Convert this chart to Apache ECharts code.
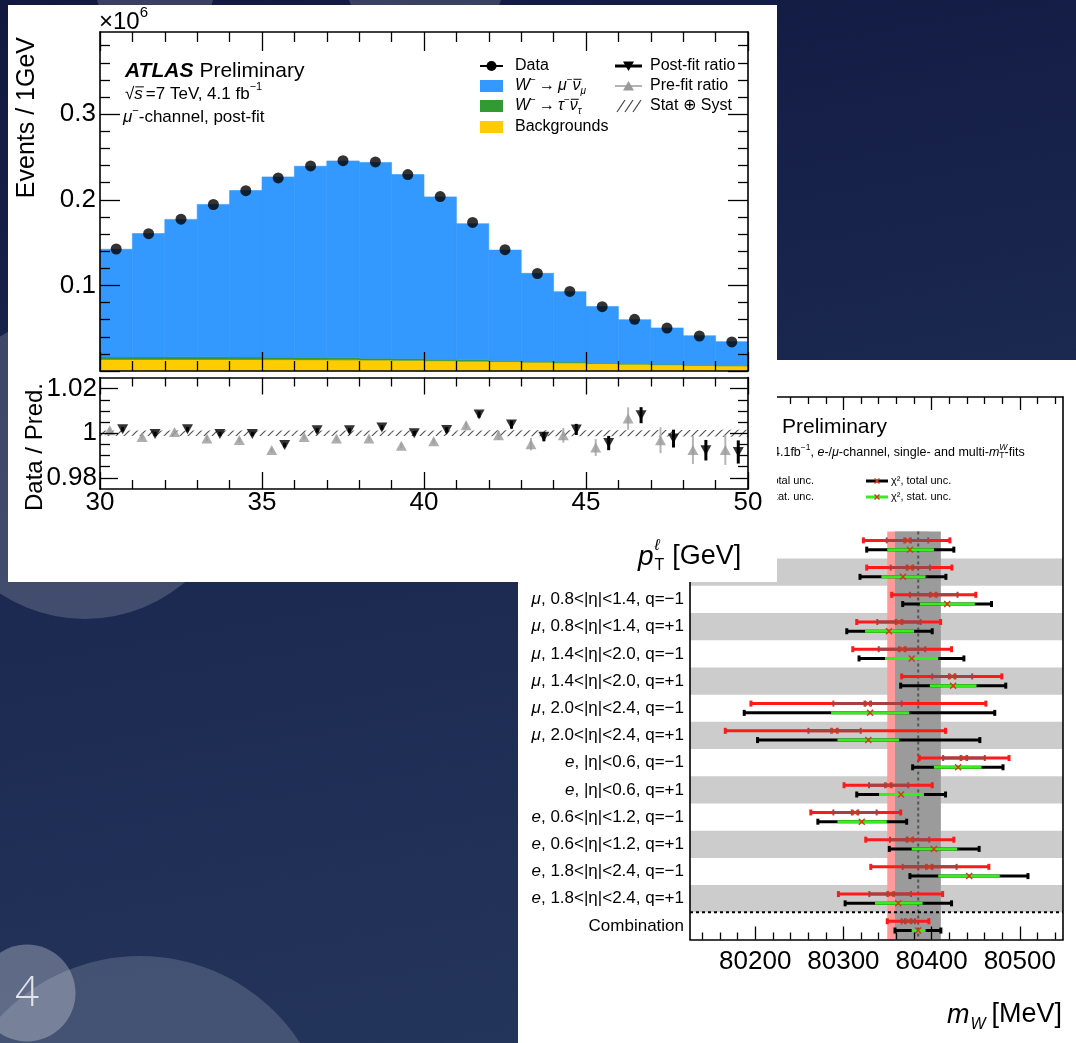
<!DOCTYPE html>
<html>
<head>
<meta charset="utf-8">
<title>W mass: lepton pT fit and per-category results</title>
<script src="https://cdn.jsdelivr.net/npm/echarts@6.0.0/dist/echarts.min.js"></script>
<style>
  html, body { margin: 0; padding: 0; }
  body { width: 1076px; height: 1043px; overflow: hidden;
         background: linear-gradient(170deg, #111940 0%, #1b2850 45%, #25375d 100%); }
  #chart { width: 1076px; height: 1043px; }
</style>
</head>
<body>
<div id="chart"></div>
<script>
// ---------- lepton pT distribution, mu- channel (events per GeV, in units of 1e6) ----------
const ptBinLow = [30, 31, 32, 33, 34, 35, 36, 37, 38, 39, 40, 41, 42, 43, 44, 45, 46, 47, 48, 49];
const dataEvents   = [0.1425, 0.1604, 0.1774, 0.1945, 0.2107, 0.2255, 0.2395, 0.2457, 0.2442, 0.2294,
                      0.2037, 0.1735, 0.1417, 0.1139, 0.0929, 0.0751, 0.0604, 0.0502, 0.0409, 0.0340];
const wmunuEvents  = [0.1259, 0.1440, 0.1605, 0.1780, 0.1944, 0.2105, 0.2233, 0.2299, 0.2286, 0.2149,
                      0.1897, 0.1591, 0.1289, 0.1027, 0.0821, 0.0657, 0.0511, 0.0423, 0.0340, 0.0278];
const wtaunuEvents = [0.0028, 0.0030, 0.0031, 0.0031, 0.0030, 0.0029, 0.0027, 0.0025, 0.0022, 0.0020,
                      0.0017, 0.0015, 0.0013, 0.0011, 0.0010, 0.0009, 0.0008, 0.0007, 0.0006, 0.0005];
const bkgEvents    = [0.0135, 0.0135, 0.0135, 0.0135, 0.0134, 0.0133, 0.0132, 0.0130, 0.0128, 0.0125,
                      0.0120, 0.0115, 0.0110, 0.0103, 0.0096, 0.0088, 0.0080, 0.0073, 0.0066, 0.0060];

// ratio panel: data / prediction
const postFitRatio = [1.0018, 0.9997, 1.0018, 0.9997, 0.9997, 0.9947, 1.0013, 1.0013, 1.0026, 1.0000,
                      1.0015, 1.0084, 1.0039, 0.9984, 1.0017, 0.9956, 1.0081, 0.9976, 0.9924, 0.9916];
const postFitErr   = [0.0010, 0.0010, 0.0010, 0.0010, 0.0010, 0.0010, 0.0010, 0.0010, 0.0010, 0.0010,
                      0.0012, 0.0014, 0.0018, 0.0020, 0.0025, 0.0032, 0.0036, 0.0040, 0.0046, 0.0052];
const preFitRatio  = [1.0013, 0.9983, 1.0006, 0.9976, 0.9970, 0.9925, 0.9983, 0.9976, 0.9976, 0.9944,
                      0.9964, 1.0036, 0.9991, 0.9951, 0.9991, 0.9936, 1.0066, 0.9969, 0.9925, 0.9925];
const preFitErr    = [0.0010, 0.0010, 0.0010, 0.0010, 0.0010, 0.0010, 0.0010, 0.0010, 0.0010, 0.0010,
                      0.0012, 0.0015, 0.0020, 0.0028, 0.0033, 0.0038, 0.0050, 0.0058, 0.0063, 0.0067];
const statSystBand = [0.0012, 0.0012, 0.0012, 0.0012, 0.0012, 0.0012, 0.0012, 0.0012, 0.0012, 0.0012,
                      0.0012, 0.0012, 0.0013, 0.0013, 0.0013, 0.0014, 0.0014, 0.0015, 0.0015, 0.0016];

const ptTickValues = [30, 35, 40, 45, 50];
const ptTickLabels = ['30', '35', '40', '45', '50'];
const eventsTickValues = [0.1, 0.2, 0.3];
const eventsTickLabels = ['0.1', '0.2', '0.3'];
const ratioTickValues = [0.98, 1, 1.02];
const ratioTickLabels = ['0.98', '1', '1.02'];

// ---------- m_W per measurement category (MeV) ----------
const categories = [
  'μ, |η|<0.8, q=−1', 'μ, |η|<0.8, q=+1',
  'μ, 0.8<|η|<1.4, q=−1', 'μ, 0.8<|η|<1.4, q=+1',
  'μ, 1.4<|η|<2.0, q=−1', 'μ, 1.4<|η|<2.0, q=+1',
  'μ, 2.0<|η|<2.4, q=−1', 'μ, 2.0<|η|<2.4, q=+1',
  'e, |η|<0.6, q=−1', 'e, |η|<0.6, q=+1',
  'e, 0.6<|η|<1.2, q=−1', 'e, 0.6<|η|<1.2, q=+1',
  'e, 1.8<|η|<2.4, q=−1', 'e, 1.8<|η|<2.4, q=+1',
  'Combination'
];
// likelihood fit (upper bar)
const lhCentral = [80372.8, 80375.4, 80401.8, 80363.0, 80366.7, 80423.3, 80327.6, 80289.8, 80436.6, 80350.9, 80313.2, 80375.4, 80397.3, 80353.6, 80373.5];
const lhTotLo   = [80322.6, 80326.4, 80354.7, 80315.1, 80310.6, 80366.0, 80195.1, 80166.0, 80386.0, 80300.7, 80263.0, 80325.3, 80331.0, 80294.3, 80349.7];
const lhTotHi   = [80420.7, 80423.0, 80450.1, 80410.2, 80422.6, 80479.6, 80461.5, 80415.8, 80487.8, 80400.7, 80364.9, 80425.2, 80464.9, 80412.5, 80396.9];
const lhStatLo  = [80349.1, 80353.6, 80375.4, 80338.4, 80340.0, 80400.7, 80288.6, 80260.3, 80413.1, 80329.0, 80288.6, 80352.8, 80367.2, 80329.4, 80366.0];
const lhStatHi  = [80396.2, 80398.1, 80429.4, 80387.5, 80392.8, 80446.0, 80366.0, 80319.6, 80460.3, 80373.5, 80337.7, 80397.3, 80428.3, 80376.6, 80381.1];
// chi2 fit (lower bar)
const chiCentral = [80375.4, 80367.5, 80417.7, 80351.7, 80377.4, 80424.4, 80330.2, 80328.2, 80430.1, 80365.3, 80320.8, 80402.6, 80442.6, 80362.2, 80384.8];
const chiTotLo   = [80326.4, 80318.8, 80367.2, 80303.8, 80317.7, 80364.9, 80187.5, 80202.6, 80378.5, 80315.1, 80271.0, 80352.0, 80375.4, 80301.9, 80358.5];
const chiTotHi   = [80425.2, 80416.2, 80467.9, 80400.7, 80436.6, 80484.1, 80471.6, 80454.7, 80481.0, 80415.8, 80371.7, 80453.9, 80509.3, 80422.6, 80410.5];
const chiStatLo  = [80349.7, 80343.0, 80386.8, 80324.5, 80347.1, 80398.1, 80286.0, 80293.2, 80402.6, 80340.4, 80293.2, 80377.4, 80407.5, 80335.8, 80377.4];
const chiStatHi  = [80402.6, 80393.2, 80449.0, 80380.0, 80407.5, 80450.9, 80374.6, 80363.0, 80456.6, 80391.3, 80349.1, 80429.0, 80477.3, 80389.8, 80393.2];

const mwTickValues = [80200, 80300, 80400, 80500];
const mwTickLabels = ['80200', '80300', '80400', '80500'];
const mwMin = 80126, mwMax = 80549;

// ---------- styling ----------
const FONT = '"Liberation Sans", "DejaVu Sans", Arial, sans-serif';
const COL = {
  mu: '#3399ff', tau: '#339933', bkg: '#ffcc00',
  pre: '#9a9a9a', red: '#ff1a1a', darkRed: '#a8403f', green: '#35ee1a', cross: '#d8361a',
  rowBand: '#cccccc', pinkBand: '#ff9a9a', greyBand: '#9b9b9b'
};

// ---------- helpers ----------
function nearestIdx(arr, v) {
  let b = 0;
  for (let i = 1; i < arr.length; i++) if (Math.abs(arr[i] - v) < Math.abs(arr[b] - v)) b = i;
  return b;
}
function stepTicks(lo, hi, step, majors) {
  const out = [];
  for (let n = Math.round(lo / step); n <= Math.round(hi / step); n++) {
    const v = +(n * step).toFixed(6);
    if (!majors.some(m => Math.abs(m - v) < step * 0.01)) out.push(v);
  }
  return out;
}
function mkAxis(o) {
  return {
    type: 'value', gridIndex: o.grid, position: o.pos, min: o.min, max: o.max,
    inverse: !!o.inverse, z: o.z, silent: true,
    axisLine: { show: !!o.line, onZero: false, lineStyle: { color: '#000', width: 1.6 } },
    axisTick: o.ticks ? { show: true, inside: true, length: o.len, customValues: o.ticks,
                          lineStyle: { color: '#000', width: 1.3 } } : { show: false },
    axisLabel: o.labels ? Object.assign({
      show: true, customValues: o.labels.values, color: '#000', fontFamily: FONT,
      formatter: v => o.labels.text[nearestIdx(o.labels.values, v)]
    }, o.labelStyle) : { show: false },
    splitLine: { show: false }, splitArea: { show: false }
  };
}

const measureCtx = document.createElement('canvas').getContext('2d');
function fontOf(p) { return `${p.style || 'normal'} ${p.weight || 'normal'} ${p.size}px ${FONT}`; }
function runsWidth(parts) {
  let w = 0;
  parts.forEach(p => { measureCtx.font = fontOf(p); if (!p.stay) w += measureCtx.measureText(p.t).width + (p.gap || 0); });
  return w;
}
// lays out a line of text pieces (for italics, sub- and superscripts)
function textRuns(x, y, parts, z, align) {
  let cx = align === 'right' ? x - runsWidth(parts) : x;
  const els = [];
  parts.forEach(p => {
    const f = fontOf(p);
    measureCtx.font = f;
    const w = measureCtx.measureText(p.t).width;
    const fill = p.fill || '#000';
    els.push({ type: 'text', z, silent: true, x: cx + (p.dx || 0), y: y + (p.dy || 0),
      style: { text: p.t, font: f, fill, align: 'left', verticalAlign: 'middle',
               textAlign: 'left', textVerticalAlign: 'middle' } });
    if (p.over) {
      const oy = y + (p.dy || 0) - p.size * 0.42;
      els.push({ type: 'line', z, silent: true, shape: { x1: cx + 1, y1: oy, x2: cx + w + 1, y2: oy },
                 style: { stroke: fill, lineWidth: 1 } });
    }
    if (!p.stay) cx += w + (p.gap || 0);
  });
  return els;
}
function line(x1, y1, x2, y2, stroke, lw, z, dash) {
  return { type: 'line', z, silent: true, shape: { x1, y1, x2, y2 },
           style: { stroke, lineWidth: lw, lineDash: dash || null } };
}

// hatch pattern for the stat+syst band
const hatch = (() => {
  const c = document.createElement('canvas'); c.width = 8; c.height = 8;
  const g = c.getContext('2d'); g.strokeStyle = '#555'; g.lineWidth = 1.2;
  g.beginPath(); g.moveTo(0, 8); g.lineTo(8, 0); g.moveTo(-2, 2); g.lineTo(2, -2); g.moveTo(6, 10); g.lineTo(10, 6);
  g.stroke();
  return c;
})();

// ---------- tick sets ----------
const ptMinor = stepTicks(30, 50, 1, ptTickValues);
const eventsMajor = [0].concat(eventsTickValues);
const eventsMinor = stepTicks(0.02, 0.38, 0.02, eventsMajor);
const ratioMinor = stepTicks(0.985, 1.015, 0.005, ratioTickValues);
const mwMinor = stepTicks(80140, 80540, 20, mwTickValues);
const rowCenters = categories.map((_, k) => k + 0.5);
const rowLabels = categories.map(s => s.replace(/^(μ|e),/, '{i|$1},'));

// ---------- series data ----------
const histData = ptBinLow.map((x, i) => [x, x + 1, bkgEvents[i], wtaunuEvents[i], wmunuEvents[i]]);
const dataPoints = ptBinLow.map((x, i) => [x + 0.5, dataEvents[i]]);
const preFitPoints = ptBinLow.map((x, i) => [x + 0.3, preFitRatio[i], preFitErr[i]]);
const postFitPoints = ptBinLow.map((x, i) => [x + 0.7, postFitRatio[i], postFitErr[i]]);
const bandData = ptBinLow.map((x, i) => [x, x + 1, statSystBand[i]]);
const measData = categories.map((_, k) => [k, lhCentral[k], lhTotLo[k], lhTotHi[k], lhStatLo[k], lhStatHi[k],
                                              chiCentral[k], chiTotLo[k], chiTotHi[k], chiStatLo[k], chiStatHi[k]]);
const combIdx = categories.length - 1;
const shadedRows = rowCenters.map((_, k) => k).filter(k => k % 2 === 1);

// ---------- render functions ----------
function renderHist(params, api) {
  const x0 = api.value(0), x1 = api.value(1);
  const layers = [[api.value(2), COL.bkg], [api.value(3), COL.tau], [api.value(4), COL.mu]];
  let base = 0; const children = [];
  layers.forEach(([h, c]) => {
    const a = api.coord([x0, base + h]), b = api.coord([x1, base]);
    children.push({ type: 'rect', shape: { x: a[0], y: a[1], width: b[0] - a[0], height: b[1] - a[1] },
                    style: { fill: c, stroke: c, lineWidth: 0.6 } });
    base += h;
  });
  return { type: 'group', children };
}
function renderBand(params, api) {
  const u = api.value(2);
  const a = api.coord([api.value(0), 1 + u]), b = api.coord([api.value(1), 1 - u]);
  return { type: 'rect', shape: { x: a[0], y: a[1], width: b[0] - a[0], height: b[1] - a[1] },
           style: { fill: { image: hatch, repeat: 'repeat' } } };
}
function errRenderer(color, lw) {
  return (params, api) => {
    const x = api.value(0), y = api.value(1), e = api.value(2);
    const a = api.coord([x, y - e]), b = api.coord([x, y + e]);
    return { type: 'line', shape: { x1: a[0], y1: a[1], x2: b[0], y2: b[1] }, style: { stroke: color, lineWidth: lw } };
  };
}
function renderRowBand(params, api) {
  const k = api.value(0);
  const a = api.coord([mwMin, k]), b = api.coord([mwMax, k + 1]);
  return { type: 'rect', shape: { x: a[0], y: a[1], width: b[0] - a[0], height: b[1] - a[1] },
           style: { fill: COL.rowBand } };
}
function renderCombBand(params, api) {
  const a = api.coord([api.value(0), 0]), b = api.coord([api.value(1), categories.length]);
  return { type: 'rect', shape: { x: a[0], y: a[1], width: b[0] - a[0], height: b[1] - a[1] },
           style: { fill: api.value(2) === 0 ? COL.pinkBand : COL.greyBand } };
}
function renderRefLines(params, api) {
  const c = chiCentral[combIdx];
  const a = api.coord([c, 0]), b = api.coord([c, categories.length]);
  const s0 = api.coord([mwMin, combIdx]), s1 = api.coord([mwMax, combIdx]);
  return { type: 'group', children: [
    { type: 'line', shape: { x1: a[0], y1: a[1], x2: b[0], y2: b[1] }, style: { stroke: '#555', lineWidth: 2, lineDash: [3, 3] } },
    { type: 'line', shape: { x1: s0[0], y1: s0[1], x2: s1[0], y2: s1[1] }, style: { stroke: '#000', lineWidth: 2, lineDash: [3, 3] } }
  ] };
}
function renderMeasurement(params, api) {
  const k = api.value(0);
  const els = [];
  const P = (x, y) => api.coord([x, y]);
  const seg = (a, b, y, color, w) => { const p = P(a, y), q = P(b, y);
    els.push({ type: 'line', shape: { x1: p[0], y1: p[1], x2: q[0], y2: q[1] }, style: { stroke: color, lineWidth: w } }); };
  const cap = (x, y, color, h, w, dx) => { const p = P(x, y); const px = p[0] + (dx || 0);
    els.push({ type: 'line', shape: { x1: px, y1: p[1] - h, x2: px, y2: p[1] + h }, style: { stroke: color, lineWidth: w } }); };
  const cross = (x, y, color, s) => { const p = P(x, y);
    els.push({ type: 'line', shape: { x1: p[0] - s, y1: p[1] - s, x2: p[0] + s, y2: p[1] + s }, style: { stroke: color, lineWidth: 1.4 } });
    els.push({ type: 'line', shape: { x1: p[0] - s, y1: p[1] + s, x2: p[0] + s, y2: p[1] - s }, style: { stroke: color, lineWidth: 1.4 } }); };
  // likelihood fit: total (red) with stat (dark red) inside
  const yU = k + 0.33;
  seg(api.value(2), api.value(3), yU, COL.red, 3);
  cap(api.value(2), yU, COL.red, 3, 3); cap(api.value(3), yU, COL.red, 3, 3);
  seg(api.value(4), api.value(5), yU, COL.darkRed, 3);
  cap(api.value(4), yU, COL.darkRed, 3, 2); cap(api.value(5), yU, COL.darkRed, 3, 2);
  cap(api.value(1), yU, COL.darkRed, 3, 1.5, -3.5); cap(api.value(1), yU, COL.darkRed, 3, 1.5, 3.5);
  cross(api.value(1), yU, COL.cross, 2.8);
  // chi2 fit: total (black) with stat (green) inside
  const yL = k + 0.67;
  seg(api.value(7), api.value(8), yL, '#000', 3);
  cap(api.value(7), yL, '#000', 3, 3); cap(api.value(8), yL, '#000', 3, 3);
  seg(api.value(9), api.value(10), yL, COL.green, 3);
  cross(api.value(6), yL, COL.cross, 3);
  return { type: 'group', children: els };
}

// ---------- decorations, panels and text ----------
const Z_BG = 0, Z_RPANEL = 1, Z_RTEXT = 8, Z_LPANEL = 20, Z_LTEXT = 32;
const g = [];
// slide background circles
[[85, 465, 154, 0.17], [140, 1147, 191, 0.155], [27, 993, 48.5, 0.28], [155, -15, 60, 0.17], [425, -25, 80, 0.17]]
  .forEach(([cx, cy, r, a]) => g.push({ type: 'circle', z: Z_BG, silent: true, shape: { cx, cy, r },
    style: { fill: `rgba(255,255,255,${a})` } }));
g.push({ type: 'text', z: Z_BG, silent: true, x: 27, y: 994,
  style: { text: '4', font: `300 42px "Open Sans", ${FONT}`, fill: 'rgba(232,234,240,0.95)',
           align: 'center', verticalAlign: 'middle', textAlign: 'center', textVerticalAlign: 'middle' } });
// white panels
g.push({ type: 'rect', z: Z_RPANEL, silent: true, shape: { x: 518, y: 360, width: 558, height: 683 }, style: { fill: '#fff' } });
g.push({ type: 'rect', z: Z_LPANEL, silent: true, shape: { x: 8, y: 5, width: 769, height: 577 }, style: { fill: '#fff' } });

// --- right plot header and legend ---
g.push(...textRuns(777, 427, [{ t: 'ATLAS', size: 21, weight: 'bold', style: 'italic' }], Z_RTEXT, 'right'));
g.push(...textRuns(782, 427, [{ t: 'Preliminary', size: 21 }], Z_RTEXT));
g.push(...textRuns(772, 453, [{ t: '√s = 7 TeV,', size: 12.5 }], Z_RTEXT, 'right'));
g.push(...textRuns(773, 453, [
  { t: '4.1fb', size: 12.5 }, { t: '−1', size: 8.5, dy: -5 }, { t: ', ', size: 12.5 },
  { t: 'e', size: 12.5, style: 'italic' }, { t: '-/', size: 12.5 }, { t: 'μ', size: 12.5, style: 'italic' },
  { t: '-channel, single- and multi-', size: 12.5 }, { t: 'm', size: 12.5, style: 'italic' },
  { t: 'W', size: 8.5, style: 'italic', dy: -5, stay: true }, { t: 'T', size: 8.5, dy: 3 }, { t: '-fits', size: 12.5, gap: 0 }
], Z_RTEXT));
g.push(...textRuns(814, 481, [{ t: 'total unc.', size: 11 }], Z_RTEXT, 'right'));
g.push(...textRuns(814, 497, [{ t: 'stat. unc.', size: 11 }], Z_RTEXT, 'right'));
g.push(line(866, 481, 888, 481, '#000', 3, Z_RTEXT));
g.push(line(874.5, 478.5, 879.5, 483.5, COL.cross, 1.4, Z_RTEXT), line(874.5, 483.5, 879.5, 478.5, COL.cross, 1.4, Z_RTEXT));
g.push(line(866, 497, 888, 497, COL.green, 3, Z_RTEXT));
g.push(line(874.5, 494.5, 879.5, 499.5, COL.cross, 1.4, Z_RTEXT), line(874.5, 499.5, 879.5, 494.5, COL.cross, 1.4, Z_RTEXT));
g.push(...textRuns(891, 481, [{ t: 'χ², total unc.', size: 11 }], Z_RTEXT));
g.push(...textRuns(891, 497, [{ t: 'χ², stat. unc.', size: 11 }], Z_RTEXT));
// right plot x title
g.push(...textRuns(947, 1015, [{ t: 'm', size: 27, style: 'italic', gap: 1 }, { t: 'W', size: 16, style: 'italic', dy: 10, gap: 6 },
  { t: '[MeV]', size: 27 }], Z_RTEXT));

// --- left plot texts ---
g.push(...textRuns(99, 22, [{ t: '×10', size: 24 }, { t: '6', size: 15, dy: -9 }], Z_LTEXT));
g.push(...textRuns(125, 71, [{ t: 'ATLAS', size: 21, weight: 'bold', style: 'italic', gap: 6 }, { t: 'Preliminary', size: 21 }], Z_LTEXT));
g.push(...textRuns(125, 94, [{ t: '√', size: 17 }, { t: 's', size: 17, style: 'italic', over: true, gap: 3 },
  { t: '=7 TeV, 4.1 fb', size: 17 }, { t: '−1', size: 11, dy: -7 }], Z_LTEXT));
g.push(...textRuns(123, 117, [{ t: 'μ', size: 17, style: 'italic' }, { t: '−', size: 11, dy: -6 },
  { t: '-channel, post-fit', size: 17 }], Z_LTEXT));
// legend, first column
g.push(line(480, 66, 503, 66, '#000', 2, Z_LTEXT));
g.push({ type: 'circle', z: Z_LTEXT, silent: true, shape: { cx: 491.5, cy: 66, r: 5 }, style: { fill: '#000' } });
[[80, COL.mu], [100, COL.tau], [121, COL.bkg]].forEach(([y, c]) =>
  g.push({ type: 'rect', z: Z_LTEXT, silent: true, shape: { x: 480, y, width: 23, height: 12 }, style: { fill: c } }));
g.push(...textRuns(515, 66, [{ t: 'Data', size: 16 }], Z_LTEXT));
function decayLabel(lep) {
  return [{ t: 'W', size: 16, style: 'italic' }, { t: '−', size: 10, dy: -6, gap: 3 }, { t: '→', size: 16, gap: 3 },
          { t: lep, size: 16, style: 'italic' }, { t: '−', size: 10, dy: -6 },
          { t: 'ν', size: 16, style: 'italic', over: true }, { t: lep, size: 10, style: 'italic', dy: 5 }];
}
g.push(...textRuns(515, 86, decayLabel('μ'), Z_LTEXT));
g.push(...textRuns(515, 106, decayLabel('τ'), Z_LTEXT));
g.push(...textRuns(515, 127, [{ t: 'Backgrounds', size: 16 }], Z_LTEXT));
// legend, second column
g.push(line(615, 66, 642, 66, '#000', 3, Z_LTEXT));
g.push({ type: 'polygon', z: Z_LTEXT, silent: true, shape: { points: [[623, 61.5], [634, 61.5], [628.5, 71]] }, style: { fill: '#000' } });
g.push(line(615, 86, 642, 86, COL.pre, 1.5, Z_LTEXT));
g.push({ type: 'polygon', z: Z_LTEXT, silent: true, shape: { points: [[623, 90.5], [634, 90.5], [628.5, 81]] }, style: { fill: COL.pre } });
[617, 625, 633].forEach(x => g.push(line(x, 112, x + 8, 100, '#444', 1.2, Z_LTEXT)));
g.push(...textRuns(650, 66, [{ t: 'Post-fit ratio', size: 16 }], Z_LTEXT));
g.push(...textRuns(650, 86, [{ t: 'Pre-fit ratio', size: 16 }], Z_LTEXT));
g.push(...textRuns(650, 106, [{ t: 'Stat ⊕ Syst', size: 16 }], Z_LTEXT));
// axis titles
g.push({ type: 'text', z: Z_LTEXT, silent: true, x: 27, y: 37, rotation: Math.PI / 2,
  style: { text: 'Events / 1GeV', font: `25px ${FONT}`, fill: '#000', align: 'right', verticalAlign: 'middle',
           textAlign: 'right', textVerticalAlign: 'middle' } });
g.push({ type: 'text', z: Z_LTEXT, silent: true, x: 35, y: 447, rotation: Math.PI / 2,
  style: { text: 'Data / Pred.', font: `24px ${FONT}`, fill: '#000', align: 'center', verticalAlign: 'middle',
           textAlign: 'center', textVerticalAlign: 'middle' } });
g.push(...textRuns(638, 557, [{ t: 'p', size: 28, style: 'italic', gap: 1 }, { t: 'ℓ', size: 16, style: 'italic', dy: -11, stay: true },
  { t: 'T', size: 16, dy: 9, gap: 8 }, { t: '[GeV]', size: 27 }], Z_LTEXT));

// ---------- chart ----------
const Z_LAX = 29, Z_RAX = 7;
const option = {
  animation: false,
  backgroundColor: 'transparent',
  grid: [
    { left: 100, top: 32, width: 648, height: 339, containLabel: false, outerBoundsMode: 'none' },
    { left: 100, top: 377.5, width: 648, height: 111.5, containLabel: false, outerBoundsMode: 'none' },
    { left: 690, top: 397, width: 373, height: 542.5, containLabel: false, outerBoundsMode: 'none' }
  ],
  xAxis: [
    mkAxis({ grid: 0, pos: 'bottom', min: 30, max: 50, ticks: ptTickValues, len: 19, line: true, z: Z_LAX }),
    mkAxis({ grid: 0, pos: 'bottom', min: 30, max: 50, ticks: ptMinor, len: 10, z: Z_LAX }),
    mkAxis({ grid: 0, pos: 'top', min: 30, max: 50, ticks: ptTickValues, len: 19, line: true, z: Z_LAX }),
    mkAxis({ grid: 0, pos: 'top', min: 30, max: 50, ticks: ptMinor, len: 10, z: Z_LAX }),
    mkAxis({ grid: 1, pos: 'bottom', min: 30, max: 50, ticks: ptTickValues, len: 17, line: true, z: Z_LAX,
             labels: { values: ptTickValues, text: ptTickLabels }, labelStyle: { fontSize: 26, margin: 1 } }),
    mkAxis({ grid: 1, pos: 'bottom', min: 30, max: 50, ticks: ptMinor, len: 9, z: Z_LAX }),
    mkAxis({ grid: 1, pos: 'top', min: 30, max: 50, ticks: ptTickValues, len: 17, line: true, z: Z_LAX }),
    mkAxis({ grid: 1, pos: 'top', min: 30, max: 50, ticks: ptMinor, len: 9, z: Z_LAX }),
    mkAxis({ grid: 2, pos: 'bottom', min: mwMin, max: mwMax, ticks: mwTickValues, len: 13, line: true, z: Z_RAX,
             labels: { values: mwTickValues, text: mwTickLabels }, labelStyle: { fontSize: 26, margin: 9 } }),
    mkAxis({ grid: 2, pos: 'bottom', min: mwMin, max: mwMax, ticks: mwMinor, len: 7, z: Z_RAX }),
    mkAxis({ grid: 2, pos: 'top', min: mwMin, max: mwMax, ticks: mwTickValues, len: 13, line: true, z: Z_RAX }),
    mkAxis({ grid: 2, pos: 'top', min: mwMin, max: mwMax, ticks: mwMinor, len: 7, z: Z_RAX })
  ],
  yAxis: [
    mkAxis({ grid: 0, pos: 'left', min: 0, max: 0.396, ticks: eventsMajor, len: 20, line: true, z: Z_LAX,
             labels: { values: eventsTickValues, text: eventsTickLabels }, labelStyle: { fontSize: 26, margin: 4 } }),
    mkAxis({ grid: 0, pos: 'left', min: 0, max: 0.396, ticks: eventsMinor, len: 10, z: Z_LAX }),
    mkAxis({ grid: 0, pos: 'right', min: 0, max: 0.396, ticks: eventsMajor, len: 20, line: true, z: Z_LAX }),
    mkAxis({ grid: 0, pos: 'right', min: 0, max: 0.396, ticks: eventsMinor, len: 10, z: Z_LAX }),
    mkAxis({ grid: 1, pos: 'left', min: 0.975, max: 1.025, ticks: ratioTickValues, len: 18, line: true, z: Z_LAX,
             labels: { values: ratioTickValues, text: ratioTickLabels }, labelStyle: { fontSize: 26, margin: 3 } }),
    mkAxis({ grid: 1, pos: 'left', min: 0.975, max: 1.025, ticks: ratioMinor, len: 10, z: Z_LAX }),
    mkAxis({ grid: 1, pos: 'right', min: 0.975, max: 1.025, ticks: ratioTickValues, len: 18, line: true, z: Z_LAX }),
    mkAxis({ grid: 1, pos: 'right', min: 0.975, max: 1.025, ticks: ratioMinor, len: 10, z: Z_LAX }),
    mkAxis({ grid: 2, pos: 'left', min: -4.94, max: 15, inverse: true, line: true, z: Z_RAX,
             labels: { values: rowCenters, text: rowLabels },
             labelStyle: { fontSize: 17, margin: 6, rich: { i: { fontStyle: 'italic', fontSize: 17, fontFamily: FONT, color: '#000' } } } }),
    mkAxis({ grid: 2, pos: 'right', min: -4.94, max: 15, inverse: true, line: true, z: Z_RAX })
  ],
  series: [
    // main panel
    { type: 'custom', name: 'stack', xAxisIndex: 0, yAxisIndex: 0, z: 26, silent: true, renderItem: renderHist, data: histData },
    { type: 'scatter', name: 'Data', xAxisIndex: 0, yAxisIndex: 0, z: 28, silent: true, symbol: 'circle', symbolSize: 11,
      itemStyle: { color: '#000' }, data: dataPoints },
    // ratio panel
    { type: 'custom', name: 'Stat ⊕ Syst', xAxisIndex: 4, yAxisIndex: 4, z: 26, silent: true, renderItem: renderBand, data: bandData,
      markLine: { silent: true, symbol: 'none', label: { show: false }, data: [{ yAxis: 1 }],
                  lineStyle: { color: '#555', type: [5, 4], width: 1 } } },
    { type: 'custom', name: 'pre-fit err', xAxisIndex: 4, yAxisIndex: 4, z: 27, silent: true,
      renderItem: errRenderer('#b5b5b5', 2), data: preFitPoints },
    { type: 'scatter', name: 'Pre-fit ratio', xAxisIndex: 4, yAxisIndex: 4, z: 27, silent: true, symbol: 'triangle',
      symbolSize: [11, 10], itemStyle: { color: COL.pre }, data: preFitPoints.map(p => [p[0], p[1]]) },
    { type: 'custom', name: 'post-fit err', xAxisIndex: 4, yAxisIndex: 4, z: 28, silent: true,
      renderItem: errRenderer('#000', 3), data: postFitPoints },
    { type: 'scatter', name: 'Post-fit ratio', xAxisIndex: 4, yAxisIndex: 4, z: 28, silent: true, symbol: 'triangle',
      symbolRotate: 180, symbolSize: [11, 10], itemStyle: { color: '#000' }, data: postFitPoints.map(p => [p[0], p[1]]) },
    // m_W summary
    { type: 'custom', name: 'rows', xAxisIndex: 8, yAxisIndex: 8, z: 2, silent: true, renderItem: renderRowBand,
      data: shadedRows.map(k => [k]) },
    { type: 'custom', name: 'combination bands', xAxisIndex: 8, yAxisIndex: 8, z: 3, silent: true, renderItem: renderCombBand,
      data: [[lhTotLo[combIdx], lhTotHi[combIdx], 0], [chiTotLo[combIdx], chiTotHi[combIdx], 1]] },
    { type: 'custom', name: 'reference lines', xAxisIndex: 8, yAxisIndex: 8, z: 4, silent: true, renderItem: renderRefLines,
      data: [[chiCentral[combIdx], combIdx]] },
    { type: 'custom', name: 'measurements', xAxisIndex: 8, yAxisIndex: 8, z: 5, silent: true, renderItem: renderMeasurement,
      data: measData }
  ],
  graphic: { elements: g }
};

const chart = echarts.init(document.getElementById('chart'), null, { renderer: 'canvas', width: 1076, height: 1043 });
chart.setOption(option);
</script>
</body>
</html>
